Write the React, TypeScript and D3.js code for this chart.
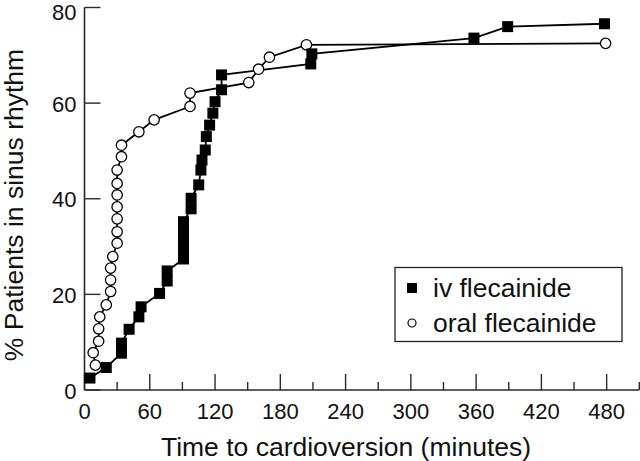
import React from "react";
import * as d3 from "d3";

const ivTime = [5, 20, 34, 34, 41, 50, 52, 69, 76, 76, 91, 91, 91, 91, 91, 98, 98, 105, 107, 108, 111, 112, 115, 118, 120, 126, 126, 208, 209, 358, 389, 478];
const ivPct = [2.5, 4.7, 7.7, 9.8, 12.7, 15.3, 17.4, 20.2, 22.8, 24.9, 27.4, 29.5, 31.6, 33.5, 35.2, 37.9, 40.1, 42.9, 46.0, 48.1, 50.2, 53.0, 55.4, 57.9, 60.3, 62.8, 65.9, 68.2, 70.3, 73.6, 76.0, 76.6];

const oralTime = [10, 8, 13, 13, 14, 20, 24, 24, 24, 26, 30, 30, 30, 30, 30, 30, 30, 34, 34, 50, 64, 97, 97, 151, 160, 170, 204, 479];
const oralPct = [5.2, 7.8, 10.2, 12.8, 15.3, 17.8, 20.6, 23.0, 25.5, 27.9, 30.7, 33.1, 35.8, 38.3, 40.8, 43.2, 46.0, 48.8, 51.2, 54.0, 56.5, 59.3, 62.1, 64.3, 67.1, 69.6, 72.2, 72.5];

const xMajorTicks = [0, 60, 120, 180, 240, 300, 360, 420, 480];
const xMinorTicks = [30, 90, 150, 210, 270, 330, 390, 450, 510];
const yTicks = [0, 20, 40, 60, 80];

const legendLabels = ["iv flecainide", "oral flecainide"];
const xTitle = "Time to cardioversion (minutes)";
const yTitle = "% Patients in sinus rhythm";

const W = 640;
const H = 461;
const FONT = "'Liberation Sans', Arial, Helvetica, sans-serif";

export default function App() {
  const x = d3.scaleLinear().domain([0, 510]).range([84.5, 639.3]);
  const y = d3.scaleLinear().domain([0, 80]).range([390, 7.5]);

  const ivData = ivTime.map((t, i) => [t, ivPct[i]] as [number, number]);
  const oralData = oralTime.map((t, i) => [t, oralPct[i]] as [number, number]);

  const line = d3
    .line<[number, number]>()
    .x((d) => x(d[0]))
    .y((d) => y(d[1]));

  const axisColor = "#2a2a2a";
  const sq = 11;

  return (
    <svg
      width={W}
      height={H}
      style={{ position: "absolute", left: 0, top: 0, background: "#fff" }}
      fontFamily={FONT}
    >
      <rect x={0} y={0} width={W} height={H} fill="#fff" />
      {/* axes */}
      <line x1={x(0)} x2={x(0)} y1={y(80)} y2={y(0)} stroke={axisColor} strokeWidth={1.6} />
      <line x1={x(0)} x2={x(510)} y1={y(0)} y2={y(0)} stroke={axisColor} strokeWidth={1.6} />
      {yTicks.map((t) => (
        <g key={"yt" + t}>
          <line x1={x(0)} x2={x(0) + 16} y1={y(t)} y2={y(t)} stroke={axisColor} strokeWidth={1.4} />
          <text x={x(0) - 8} y={Math.max(y(t) + 8.5, 20)} textAnchor="end" fontSize={22} fill="#111">
            {t}
          </text>
        </g>
      ))}
      {xMajorTicks.map((t) => (
        <g key={"xt" + t}>
          <line x1={x(t)} x2={x(t)} y1={y(0)} y2={y(0) - 16} stroke={axisColor} strokeWidth={1.4} />
          <text x={x(t)} y={419} textAnchor="middle" fontSize={22} fill="#111">
            {t}
          </text>
        </g>
      ))}
      {xMinorTicks.map((t) => (
        <line key={"xm" + t} x1={x(t)} x2={x(t)} y1={y(0)} y2={y(0) - 8} stroke={axisColor} strokeWidth={1.4} />
      ))}
      <text x={346} y={456} textAnchor="middle" fontSize={26.5} fill="#111">
        {xTitle}
      </text>
      <text
        transform={`translate(23, 205) rotate(-90)`}
        textAnchor="middle"
        fontSize={26.5}
        fill="#111"
      >
        {yTitle}
      </text>

      {/* lines */}
      <path d={line(ivData) || ""} fill="none" stroke="#000" strokeWidth={1.8} />
      <path d={line(oralData) || ""} fill="none" stroke="#000" strokeWidth={1.8} />

      {/* markers */}
      {oralData.map((d, i) => (
        <circle key={"o" + i} cx={x(d[0])} cy={y(d[1])} r={5.2} fill="#fff" stroke="#000" strokeWidth={1.3} />
      ))}
      {ivData.map((d, i) => (
        <rect key={"s" + i} x={x(d[0]) - sq / 2} y={y(d[1]) - sq / 2} width={sq} height={sq} fill="#000" />
      ))}

      {/* legend */}
      <rect x={395} y={267.5} width={227} height={74} fill="#fff" stroke="#222" strokeWidth={1.3} />
      <rect x={407} y={283} width={10} height={10} fill="#000" />
      <text x={433} y={297} fontSize={26.5} fill="#111">
        {legendLabels[0]}
      </text>
      <circle cx={412} cy={323} r={4} fill="#fff" stroke="#000" strokeWidth={1.2} />
      <text x={433} y={332} fontSize={26.5} fill="#111">
        {legendLabels[1]}
      </text>
    </svg>
  );
}
